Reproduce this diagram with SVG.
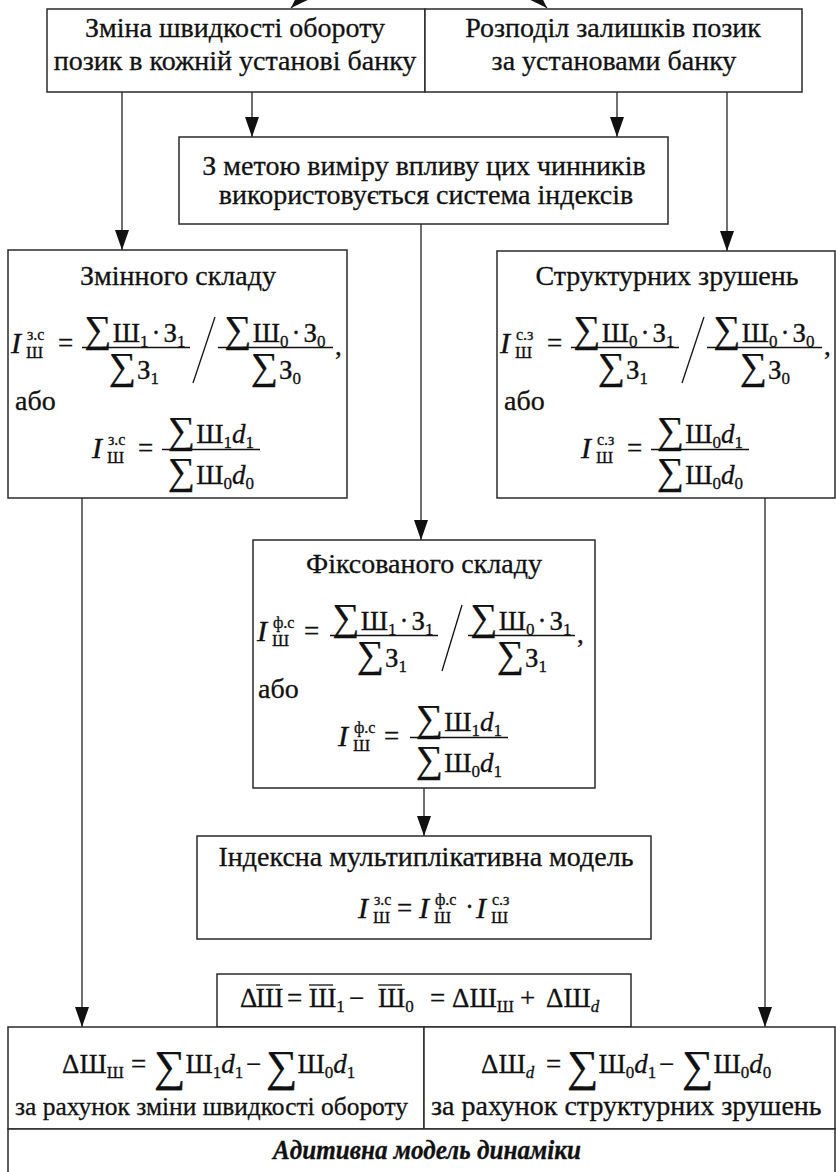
<svg xmlns="http://www.w3.org/2000/svg" width="836" height="1172" viewBox="0 0 836 1172" font-family="'Liberation Serif', 'DejaVu Serif', serif">
<defs>
<style>
text{font-family:'Liberation Serif','DejaVu Serif',serif}
.tx{fill:#111;stroke:#111;stroke-width:0.3}
.n28{font-size:28px}
.m{font-size:27px}
.it{font-style:italic}
.ii{font-style:italic;font-size:30px}
.sm{font-size:17px}
.sp{font-size:16px}
.sg{font-size:38px}
.sgb{font-size:44px}
.mid{text-anchor:middle}
.box{fill:#fff;stroke:#2a2a2a;stroke-width:1.5}
.bar{stroke:#111;stroke-width:1.3;fill:none}
.ln{stroke:#222;stroke-width:1.3;fill:none}
.bi{font-size:27px;font-weight:bold;font-style:italic}
</style>
<marker id="ah" markerUnits="userSpaceOnUse" markerWidth="20" markerHeight="14" viewBox="0 0 20 14" refX="20" refY="7" orient="auto">
<path d="M0,0 L20,7 L0,14 z" fill="#111"/>
</marker>
</defs>
<rect width="836" height="1172" fill="#fff"/>

<g id="connectors">
<line class="ln" x1="351" y1="-52" x2="291" y2="8" marker-end="url(#ah)"/>
<line class="ln" x1="487" y1="-52" x2="547" y2="8" marker-end="url(#ah)"/>
<line class="ln" x1="252" y1="92" x2="252" y2="137" marker-end="url(#ah)"/>
<line class="ln" x1="617" y1="92" x2="617" y2="137" marker-end="url(#ah)"/>
<line class="ln" x1="122" y1="92" x2="122" y2="250" marker-end="url(#ah)"/>
<line class="ln" x1="727" y1="92" x2="727" y2="251" marker-end="url(#ah)"/>
<line class="ln" x1="421" y1="224" x2="421" y2="540" marker-end="url(#ah)"/>
<line class="ln" x1="424" y1="788" x2="424" y2="836" marker-end="url(#ah)"/>
<line class="ln" x1="82" y1="498" x2="82" y2="1027" marker-end="url(#ah)"/>
<line class="ln" x1="765" y1="498" x2="765" y2="1027" marker-end="url(#ah)"/>
</g>

<g id="node-speed-change">
<rect class="box" x="47" y="9" width="378" height="83"/>
<text class="tx n28 mid" x="235" y="37">Зміна швидкості обороту</text>
<text class="tx n28 mid" x="235" y="70">позик в кожній установі банку</text>
</g>

<g id="node-distribution">
<rect class="box" x="425" y="9" width="377" height="83"/>
<text class="tx n28 mid" x="613" y="37">Розподіл залишків позик</text>
<text class="tx n28 mid" x="614" y="70">за установами банку</text>
</g>

<g id="node-index-system">
<rect class="box" x="179" y="137" width="489" height="87"/>
<text class="tx n28 mid" x="424" y="175">З метою виміру впливу цих чинників</text>
<text class="tx n28 mid" x="426" y="204">використовується система індексів</text>
</g>

<g id="node-variable">
<rect class="box" x="8" y="250" width="339" height="248"/>
<g>
<text class="tx n28 mid" x="178" y="285">Змінного складу</text>
<text class="tx m"><tspan class="ii" x="11" y="353">I</tspan><tspan class="sp" x="27" y="340">з.с</tspan><tspan class="sm" x="26" y="358">Ш</tspan><tspan x="58" y="352">=</tspan></text>
<line class="bar" x1="82" y1="347.5" x2="190" y2="347.5"/>
<text class="tx m mid" x="135" y="342"><tspan class="sg">∑</tspan><tspan dx="1">Ш</tspan><tspan class="sm" dy="5">1</tspan><tspan dx="3" dy="-5">·</tspan><tspan dx="3">З</tspan><tspan class="sm" dy="5">1</tspan></text>
<text class="tx m mid" x="134" y="379"><tspan class="sg">∑</tspan><tspan dx="1">З</tspan><tspan class="sm" dy="5">1</tspan></text>
<line class="bar" x1="215" y1="317" x2="193" y2="383"/>
<line class="bar" x1="218" y1="347.5" x2="333" y2="347.5"/>
<text class="tx m mid" x="275" y="342"><tspan class="sg">∑</tspan><tspan dx="1">Ш</tspan><tspan class="sm" dy="5">0</tspan><tspan dx="3" dy="-5">·</tspan><tspan dx="3">З</tspan><tspan class="sm" dy="5">0</tspan></text>
<text class="tx m mid" x="276" y="379"><tspan class="sg">∑</tspan><tspan dx="1">З</tspan><tspan class="sm" dy="5">0</tspan></text>
<text class="tx m" x="335" y="355">,</text>
<text class="tx n28" x="15" y="410">або</text>
<text class="tx m"><tspan class="ii" x="92" y="458">I</tspan><tspan class="sp" x="108" y="445">з.с</tspan><tspan class="sm" x="107" y="463">Ш</tspan><tspan x="138" y="457">=</tspan></text>
<line class="bar" x1="162" y1="449.5" x2="260" y2="449.5"/>
<text class="tx m mid" x="211" y="443"><tspan class="sg">∑</tspan><tspan dx="1">Ш</tspan><tspan class="sm" dy="5">1</tspan><tspan class="it" dy="-5">d</tspan><tspan class="sm" dy="5">1</tspan></text>
<text class="tx m mid" x="211" y="484"><tspan class="sg">∑</tspan><tspan dx="1">Ш</tspan><tspan class="sm" dy="5">0</tspan><tspan class="it" dy="-5">d</tspan><tspan class="sm" dy="5">0</tspan></text>
</g>
</g>

<g id="node-structural">
<rect class="box" x="497" y="251" width="338" height="247"/>
<g transform="translate(489,0)">
<text class="tx n28 mid" x="178" y="285">Структурних зрушень</text>
<text class="tx m"><tspan class="ii" x="11" y="353">I</tspan><tspan class="sp" x="27" y="340">с.з</tspan><tspan class="sm" x="26" y="358">Ш</tspan><tspan x="58" y="352">=</tspan></text>
<line class="bar" x1="82" y1="347.5" x2="190" y2="347.5"/>
<text class="tx m mid" x="135" y="342"><tspan class="sg">∑</tspan><tspan dx="1">Ш</tspan><tspan class="sm" dy="5">0</tspan><tspan dx="3" dy="-5">·</tspan><tspan dx="3">З</tspan><tspan class="sm" dy="5">1</tspan></text>
<text class="tx m mid" x="134" y="379"><tspan class="sg">∑</tspan><tspan dx="1">З</tspan><tspan class="sm" dy="5">1</tspan></text>
<line class="bar" x1="215" y1="317" x2="193" y2="383"/>
<line class="bar" x1="218" y1="347.5" x2="333" y2="347.5"/>
<text class="tx m mid" x="275" y="342"><tspan class="sg">∑</tspan><tspan dx="1">Ш</tspan><tspan class="sm" dy="5">0</tspan><tspan dx="3" dy="-5">·</tspan><tspan dx="3">З</tspan><tspan class="sm" dy="5">0</tspan></text>
<text class="tx m mid" x="276" y="379"><tspan class="sg">∑</tspan><tspan dx="1">З</tspan><tspan class="sm" dy="5">0</tspan></text>
<text class="tx m" x="335" y="355">,</text>
<text class="tx n28" x="15" y="410">або</text>
<text class="tx m"><tspan class="ii" x="92" y="458">I</tspan><tspan class="sp" x="108" y="445">с.з</tspan><tspan class="sm" x="107" y="463">Ш</tspan><tspan x="138" y="457">=</tspan></text>
<line class="bar" x1="162" y1="449.5" x2="260" y2="449.5"/>
<text class="tx m mid" x="211" y="443"><tspan class="sg">∑</tspan><tspan dx="1">Ш</tspan><tspan class="sm" dy="5">0</tspan><tspan class="it" dy="-5">d</tspan><tspan class="sm" dy="5">1</tspan></text>
<text class="tx m mid" x="211" y="484"><tspan class="sg">∑</tspan><tspan dx="1">Ш</tspan><tspan class="sm" dy="5">0</tspan><tspan class="it" dy="-5">d</tspan><tspan class="sm" dy="5">0</tspan></text>
</g>
</g>

<g id="node-fixed">
<rect class="box" x="253" y="540" width="342" height="248"/>
<g transform="translate(246,288)">
<text class="tx n28 mid" x="178" y="285">Фіксованого складу</text>
<text class="tx m"><tspan class="ii" x="11" y="353">I</tspan><tspan class="sp" x="27" y="340">ф.с</tspan><tspan class="sm" x="26" y="358">Ш</tspan><tspan x="58" y="352">=</tspan></text>
<line class="bar" x1="84" y1="347.5" x2="192" y2="347.5"/>
<text class="tx m mid" x="137" y="342"><tspan class="sg">∑</tspan><tspan dx="1">Ш</tspan><tspan class="sm" dy="5">1</tspan><tspan dx="3" dy="-5">·</tspan><tspan dx="3">З</tspan><tspan class="sm" dy="5">1</tspan></text>
<text class="tx m mid" x="136" y="379"><tspan class="sg">∑</tspan><tspan dx="1">З</tspan><tspan class="sm" dy="5">1</tspan></text>
<line class="bar" x1="216" y1="317" x2="196" y2="383"/>
<line class="bar" x1="222" y1="347.5" x2="329" y2="347.5"/>
<text class="tx m mid" x="275" y="342"><tspan class="sg">∑</tspan><tspan dx="1">Ш</tspan><tspan class="sm" dy="5">0</tspan><tspan dx="3" dy="-5">·</tspan><tspan dx="3">З</tspan><tspan class="sm" dy="5">1</tspan></text>
<text class="tx m mid" x="276" y="379"><tspan class="sg">∑</tspan><tspan dx="1">З</tspan><tspan class="sm" dy="5">1</tspan></text>
<text class="tx m" x="331" y="355">,</text>
<text class="tx n28" x="12" y="410">або</text>
<text class="tx m"><tspan class="ii" x="92" y="458">I</tspan><tspan class="sp" x="108" y="445">ф.с</tspan><tspan class="sm" x="107" y="463">Ш</tspan><tspan x="138" y="457">=</tspan></text>
<line class="bar" x1="164" y1="449.5" x2="262" y2="449.5"/>
<text class="tx m mid" x="213" y="443"><tspan class="sg">∑</tspan><tspan dx="1">Ш</tspan><tspan class="sm" dy="5">1</tspan><tspan class="it" dy="-5">d</tspan><tspan class="sm" dy="5">1</tspan></text>
<text class="tx m mid" x="213" y="484"><tspan class="sg">∑</tspan><tspan dx="1">Ш</tspan><tspan class="sm" dy="5">0</tspan><tspan class="it" dy="-5">d</tspan><tspan class="sm" dy="5">1</tspan></text>
</g>
</g>

<g id="node-multiplicative">
<rect class="box" x="197" y="836" width="454" height="103"/>
<text class="tx n28 mid" x="426" y="866">Індексна мультиплікативна модель</text>
<text class="tx m"><tspan class="ii" x="358" y="918">I</tspan><tspan class="sp" x="374" y="905">з.с</tspan><tspan class="sm" x="373" y="923">Ш</tspan><tspan x="397" y="917">=</tspan><tspan class="ii" x="419" y="918">I</tspan><tspan class="sp" x="435" y="905">ф.с</tspan><tspan class="sm" x="434" y="923">Ш</tspan><tspan x="465" y="916">·</tspan><tspan class="ii" x="476" y="918">I</tspan><tspan class="sp" x="492" y="905">с.з</tspan><tspan class="sm" x="491" y="923">Ш</tspan></text>
</g>

<g id="node-delta">
<rect class="box" x="217" y="974" width="414" height="53"/>
<text class="tx m"><tspan x="240" y="1007">Δ</tspan><tspan x="256">Ш</tspan><tspan x="287">=</tspan><tspan x="309">Ш</tspan><tspan class="sm" dy="5">1</tspan><tspan x="349" dy="-5">−</tspan><tspan x="378">Ш</tspan><tspan class="sm" dy="5">0</tspan><tspan x="430" dy="-5">=</tspan><tspan x="452">Δ</tspan><tspan>Ш</tspan><tspan class="sm" dy="5">Ш</tspan><tspan x="520" dy="-5">+</tspan><tspan x="546">Δ</tspan><tspan>Ш</tspan><tspan class="sm it" dy="5">d</tspan></text>
<line class="bar" x1="256" y1="985" x2="280" y2="985"/>
<line class="bar" x1="309" y1="985" x2="333" y2="985"/>
<line class="bar" x1="378" y1="985" x2="402" y2="985"/>
</g>

<g id="node-speed-effect">
<rect class="box" x="8" y="1027" width="416" height="102"/>
<text class="tx m" x="62" y="1073">Δ<tspan>Ш</tspan><tspan class="sm" dy="5">Ш</tspan><tspan x="131" dy="-5">=</tspan><tspan class="sgb" x="154" dy="8">∑</tspan><tspan dy="-8">Ш</tspan><tspan class="sm" dy="5">1</tspan><tspan class="it" dy="-5">d</tspan><tspan class="sm" dy="5">1</tspan><tspan x="246" dy="-5">−</tspan><tspan class="sgb" x="266" dy="8">∑</tspan><tspan dy="-8">Ш</tspan><tspan class="sm" dy="5">0</tspan><tspan class="it" dy="-5">d</tspan><tspan class="sm" dy="5">1</tspan></text>
<text class="tx" style="font-size:26px" x="15" y="1115" textLength="393" lengthAdjust="spacingAndGlyphs">за рахунок зміни швидкості обороту</text>
</g>

<g id="node-structure-effect">
<rect class="box" x="424" y="1027" width="411" height="102"/>
<text class="tx m" x="481" y="1073">Δ<tspan>Ш</tspan><tspan class="sm it" dy="5">d</tspan><tspan x="546" dy="-5">=</tspan><tspan class="sgb" x="567" dy="8">∑</tspan><tspan dy="-8">Ш</tspan><tspan class="sm" dy="5">0</tspan><tspan class="it" dy="-5">d</tspan><tspan class="sm" dy="5">1</tspan><tspan x="659" dy="-5">−</tspan><tspan class="sgb" x="682" dy="8">∑</tspan><tspan dy="-8">Ш</tspan><tspan class="sm" dy="5">0</tspan><tspan class="it" dy="-5">d</tspan><tspan class="sm" dy="5">0</tspan></text>
<text class="tx n28" x="431" y="1115">за рахунок структурних зрушень</text>
</g>

<g id="node-additive">
<rect class="box" x="8" y="1129" width="827" height="60"/>
<text class="tx bi mid" x="427" y="1159" textLength="308" lengthAdjust="spacingAndGlyphs">Адитивна модель динаміки</text>
</g>
</svg>
